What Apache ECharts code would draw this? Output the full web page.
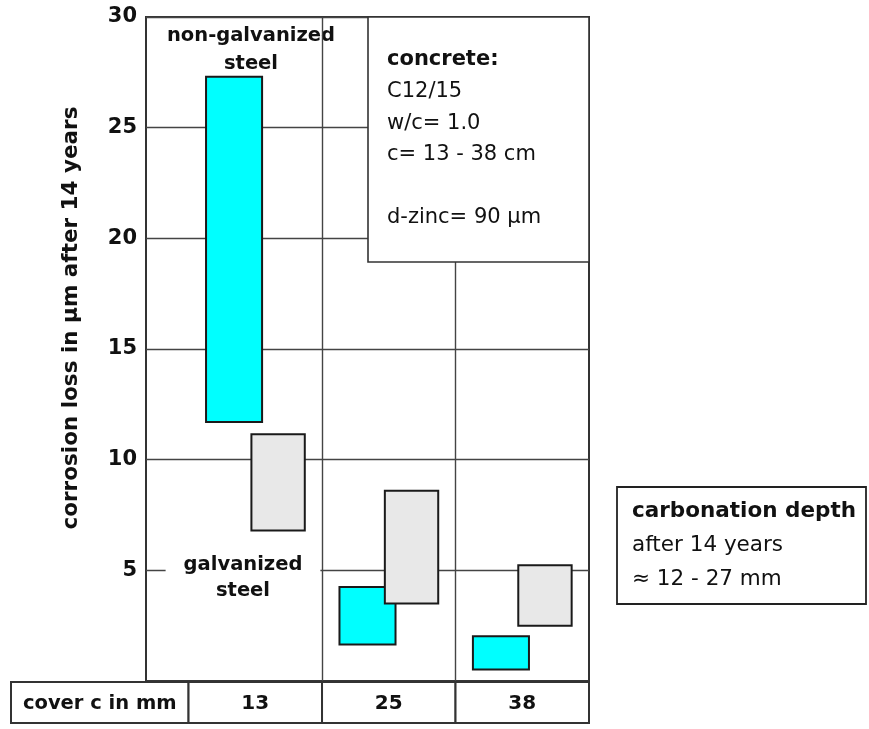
<!DOCTYPE html>
<html>
<head>
<meta charset="utf-8">
<script src="https://cdn.jsdelivr.net/npm/echarts@6/dist/echarts.min.js"></script>
<style>html,body{margin:0;padding:0;background:#fff;}#c{width:869px;height:729px;}</style>
</head>
<body>
<div id="c"></div>
<script>
// ---- data ----
const categories = ['13', '25', '38'];
const tableHeader = 'cover c in mm';
const nonGalvLow  = [11.7, 1.65, 0.52];
const nonGalvHigh = [27.3, 4.25, 2.02];
const galvLow     = [6.8, 3.5, 2.5];
const galvHigh    = [11.15, 8.6, 5.23];
const yAxisTitle = 'corrosion loss in µm after 14 years';
const nonGalvLabel = 'non-galvanized\nsteel';
const galvLabel = 'galvanized\nsteel';
const concreteTitle = 'concrete:';
const concreteLines = ['C12/15', 'w/c= 1.0', 'c= 13 - 38 cm', '', 'd-zinc= 90 µm'];
const carbTitle = 'carbonation depth';
const carbLines = ['after 14 years', '≈ 12 - 27 mm'];

// ---- styles ----
const FF = '"DejaVu Sans", sans-serif';
const LINE = '#333';
const X_MIN = -0.32, X_MAX = 3, TABLE_MIN = -1.33;

function barSeries(low, high, offset, w, fill) {
  return {
    type: 'custom', xAxisIndex: 0, yAxisIndex: 0, z: 3,
    data: categories.map((c, i) => [i, low[i], high[i]]),
    encode: { x: 0, y: [1, 2] },
    renderItem: function (params, api) {
      const i = api.value(0), lo = api.value(1), hi = api.value(2);
      const p1 = api.coord([i + 0.5 + offset - w / 2, hi]);
      const p2 = api.coord([i + 0.5 + offset + w / 2, lo]);
      return { type: 'rect',
        shape: { x: p1[0], y: p1[1], width: p2[0] - p1[0], height: p2[1] - p1[1] },
        style: { fill: fill, stroke: '#1a1a1a', lineWidth: 2 } };
    }
  };
}

const tableCells = [[TABLE_MIN, 0, tableHeader]].concat(categories.map((c, i) => [i, i + 1, c]));

const chart = echarts.init(document.getElementById('c'), null, { renderer: 'canvas' });
chart.setOption({
  animation: false,
  backgroundColor: '#fff',
  grid: [
    { left: 146, right: 280, top: 17, bottom: 48, show: true, borderColor: LINE, borderWidth: 2, backgroundColor: 'transparent' },
    { left: 11, right: 280, top: 682, bottom: 6, show: false }
  ],
  xAxis: [
    { gridIndex: 0, type: 'value', min: X_MIN, max: X_MAX, show: false },
    { gridIndex: 1, type: 'value', min: TABLE_MIN, max: X_MAX, show: false }
  ],
  yAxis: [
    { gridIndex: 0, type: 'value', min: 0, max: 30, interval: 5,
      axisLine: { show: false }, axisTick: { show: false },
      splitLine: { show: true, lineStyle: { color: '#444', width: 1.4 } },
      axisLabel: { margin: 9, color: '#111', fontFamily: FF, fontWeight: 'bold', fontSize: 21,
        formatter: v => (v === 0 ? '' : String(v)) } },
    { gridIndex: 1, type: 'value', min: 0, max: 1, show: false }
  ],
  series: [
    { type: 'line', xAxisIndex: 0, yAxisIndex: 0, data: [], z: 0,
      markLine: { silent: true, symbol: 'none', label: { show: false },
        lineStyle: { color: '#444', width: 1.4, type: 'solid' },
        data: categories.slice(1).map((c, i) => ({ xAxis: i + 1 })) } },
    barSeries(nonGalvLow, nonGalvHigh, -0.16, 0.42, '#00FFFF'),
    barSeries(galvLow, galvHigh, 0.17, 0.40, '#E8E8E8'),
    { type: 'custom', xAxisIndex: 1, yAxisIndex: 1, z: 3,
      data: tableCells.map(c => [c[0], c[1]]),
      encode: { x: [0, 1] },
      renderItem: function (params, api) {
        const a = api.coord([api.value(0), 1]);
        const b = api.coord([api.value(1), 0]);
        return { type: 'group', children: [
          { type: 'rect', shape: { x: a[0], y: a[1], width: b[0] - a[0], height: b[1] - a[1] },
            style: { fill: '#fff', stroke: LINE, lineWidth: 2 } },
          { type: 'text', style: { text: tableCells[params.dataIndex][2], x: (a[0] + b[0]) / 2, y: (a[1] + b[1]) / 2 + 1,
            align: 'center', verticalAlign: 'middle', fill: '#111',
            fontFamily: FF, fontWeight: 'bold', fontSize: params.dataIndex === 0 ? 19.5 : 20 } }
        ] };
      } }
  ],
  graphic: [
    { type: 'text', z: 5, x: 71, y: 318, rotation: Math.PI / 2,
      style: { text: yAxisTitle, align: 'center', verticalAlign: 'middle', fill: '#111',
        fontFamily: FF, fontWeight: 'bold', fontSize: 21.5 } },
    { type: 'text', z: 1, x: 251, y: 50,
      style: { text: nonGalvLabel, align: 'center', verticalAlign: 'middle', fill: '#111',
        fontFamily: FF, fontWeight: 'bold', fontSize: 19.5, lineHeight: 28,
        backgroundColor: '#fff', padding: [0, 4] } },
    { type: 'text', z: 1, x: 243, y: 578,
      style: { text: galvLabel, align: 'center', verticalAlign: 'middle', fill: '#111',
        fontFamily: FF, fontWeight: 'bold', fontSize: 19.5, lineHeight: 26,
        backgroundColor: '#fff', padding: [0, 18] } },
    { type: 'rect', z: 10, shape: { x: 368, y: 17, width: 221, height: 245 },
      style: { fill: '#fff', stroke: LINE, lineWidth: 1.6 } },
    { type: 'text', z: 11, x: 387, y: 60,
      style: { text: concreteTitle, align: 'left', verticalAlign: 'middle', fill: '#111',
        fontFamily: FF, fontWeight: 'bold', fontSize: 21 } },
    { type: 'text', z: 11, x: 387, y: 76,
      style: { text: concreteLines.join('\n'), align: 'left', verticalAlign: 'top', fill: '#111',
        fontFamily: FF, fontSize: 21, lineHeight: 31.5 } },
    { type: 'rect', z: 10, shape: { x: 617, y: 487, width: 249, height: 117 },
      style: { fill: '#fff', stroke: '#222', lineWidth: 1.8 } },
    { type: 'text', z: 11, x: 632, y: 511,
      style: { text: carbTitle, align: 'left', verticalAlign: 'middle', fill: '#111',
        fontFamily: FF, fontWeight: 'bold', fontSize: 21.5 } },
    { type: 'text', z: 11, x: 632, y: 528,
      style: { text: carbLines.join('\n'), align: 'left', verticalAlign: 'top', fill: '#111',
        fontFamily: FF, fontSize: 21.5, lineHeight: 34.5 } }
  ]
});
</script>
</body>
</html>
